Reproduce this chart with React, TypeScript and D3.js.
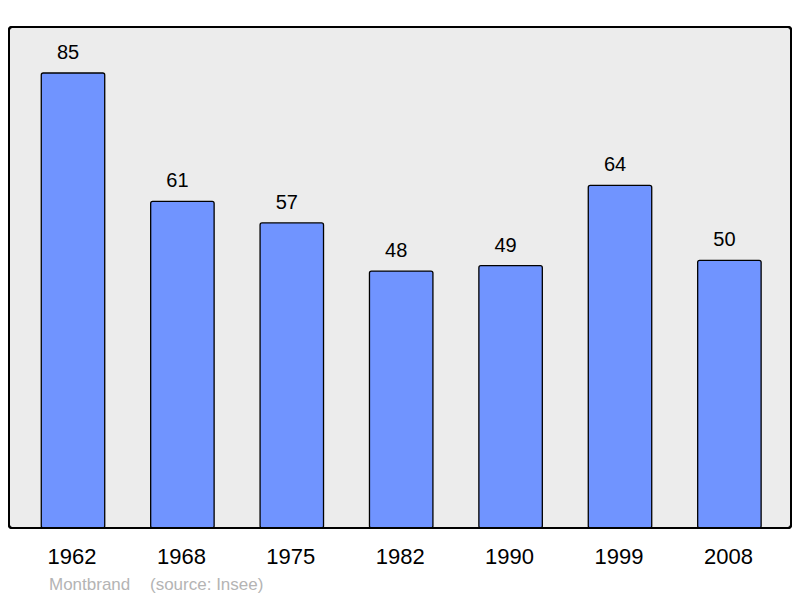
import React from "react";
import * as d3 from "d3";

const years = ["1962", "1968", "1975", "1982", "1990", "1999", "2008"];
const values = [85, 61, 57, 48, 49, 64, 50];
const footerName = "Montbrand";
const footerSource = "(source: Insee)";

export default function App() {
  const W = 800, H = 598;
  const frame = { x0: 9, y0: 27, x1: 791, y1: 528 };
  const x = d3.scaleBand<string>().domain(years).range([18.3, 784.1]).paddingInner(0.42).paddingOuter(0.21);
  const y = d3.scaleLinear().domain([0, 85]).range([frame.y1, 73]);
  const font = "'Liberation Sans', Arial, sans-serif";
  return (
    <svg width={W} height={H} style={{ position: "absolute", left: 0, top: 0 }} fontFamily={font}>
      <rect x={0} y={0} width={W} height={H} fill="#fff" />
      <rect x={frame.x0} y={frame.y0} width={frame.x1 - frame.x0} height={frame.y1 - frame.y0} rx={3} fill="#ececec" stroke="#000" strokeWidth={2} />
      {years.map((yr, i) => {
        const bx = x(yr)!;
        const bw = x.bandwidth();
        const top = y(values[i]);
        return (
          <g key={yr}>
            <rect x={bx} y={top} width={bw} height={frame.y1 - top} rx={2} fill="#7094ff" stroke="#000" strokeWidth={1.3} />
            <text x={bx + bw / 2 - 5} y={top - 14} textAnchor="middle" fontSize={20} fill="#000">{values[i]}</text>
            <text x={bx + bw / 2 - 1} y={564} textAnchor="middle" fontSize={22} fill="#000">{yr}</text>
          </g>
        );
      })}
      <rect x={frame.x0} y={frame.y0} width={frame.x1 - frame.x0} height={frame.y1 - frame.y0} rx={3} fill="none" stroke="#000" strokeWidth={2} />
      <text x={49} y={590} fontSize={17} fill="#b4b4b4">{footerName}</text>
      <text x={150} y={590} fontSize={17} fill="#b4b4b4">{footerSource}</text>
    </svg>
  );
}
